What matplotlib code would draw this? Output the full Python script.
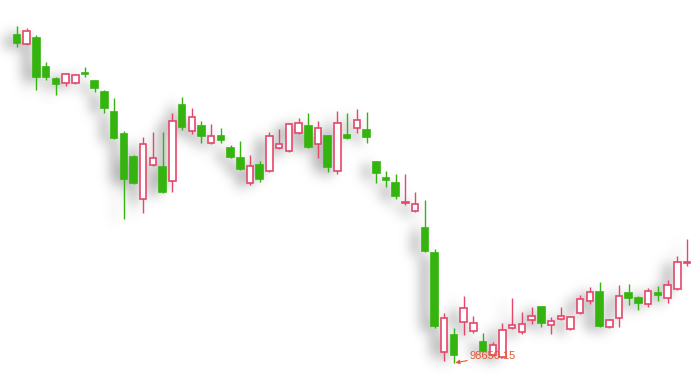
import numpy as np
import matplotlib
matplotlib.use("Agg")
import matplotlib.pyplot as plt

# candle data: open, close, high, low
opens = [108490, 108220, 108400, 107530, 107170, 107050, 107050, 107350, 107110, 106780,
         106180, 105520, 104830, 103570, 104590, 104530, 104110, 106390, 105610, 105760,
         105250, 105460, 105100, 104800, 104050, 104590, 104410, 105100, 105010, 105550,
         105760, 105220, 105460, 104410, 105490, 105700, 105640, 104680, 104200, 104050,
         103450, 103210, 102700, 101950, 98980, 99490, 99880, 99610, 99280, 98890,
         98830, 99700, 99580, 99940, 100330, 99790, 99970, 99670, 100150, 100510,
         100780, 99730, 100000, 100750, 100600, 100420, 100750, 100600, 100870, 101650]
closes = [108250, 108610, 107230, 107230, 107020, 107320, 107290, 107320, 106900, 106300,
          105400, 104170, 104050, 105220, 104800, 103780, 105910, 105730, 106030, 105460,
          105460, 105340, 104830, 104470, 104560, 104170, 105460, 105220, 105820, 105850,
          105130, 105700, 104530, 105850, 105400, 105940, 105430, 104350, 104140, 103660,
          103480, 103420, 102010, 99760, 100000, 98890, 100300, 99850, 99010, 99190,
          99640, 99790, 99820, 100060, 99850, 99910, 100060, 100030, 100570, 100780,
          99760, 99940, 100660, 100600, 100450, 100810, 100690, 100990, 101680, 101680]
highs = [108760, 108700, 108490, 107680, 107230, 107350, 107320, 107530, 107140, 106840,
         106600, 105610, 104890, 105430, 105580, 105580, 106150, 106630, 106300, 105910,
         105820, 105700, 105190, 105310, 104890, 104710, 105580, 105670, 105850, 106000,
         106150, 105910, 105490, 106210, 106150, 106270, 106180, 104710, 104410, 104320,
         104320, 103780, 103540, 102070, 100150, 99700, 100660, 100060, 99550, 99280,
         99850, 100600, 100180, 100330, 100360, 100030, 100330, 100060, 100690, 100930,
         101080, 99970, 100990, 101020, 100660, 100900, 100960, 101140, 101860, 102370]
lows = [108130, 108190, 106840, 107140, 106690, 106960, 107020, 107230, 106780, 106150,
        105370, 102970, 104020, 103150, 104560, 103750, 103780, 105640, 105520, 105250,
        105220, 105250, 104800, 104440, 103990, 104080, 104380, 105070, 104980, 105520,
        105100, 104800, 104380, 104320, 105370, 105550, 105250, 104050, 103930, 103570,
        103390, 103180, 101980, 99700, 98710, 98650.15, 99490, 99550, 98980, 98860,
        98800, 99670, 99520, 99820, 99730, 99520, 99940, 99640, 100120, 100420,
        99730, 99700, 99730, 100390, 100240, 100330, 100510, 100450, 100840, 101560]

min_label = "98650.15"

up_color = '#e5476b'
down_color = '#35b410'
label_color = '#e8572f'

W, H = 700, 381
fig = plt.figure(figsize=(W / 100, H / 100), dpi=100)
fig.patch.set_facecolor('white')

ax = fig.add_axes([0, 0, 1, 1])
ax.set_xlim(-1.75, 70.34)
ax.set_ylim(98110, 109540)
ax.axis('off')
ax.patch.set_visible(False)
ax.set_zorder(2)

o = np.array(opens, dtype=float)
c = np.array(closes, dtype=float)
h = np.array(highs, dtype=float)
l = np.array(lows, dtype=float)
x = np.arange(len(o))
up = c >= o
bw = 0.67

# shadow: rasterise candles, shift and blur
mask = np.zeros((H, W))
for i in range(len(o)):
    xl, yt = ax.transData.transform((x[i] - bw / 2, max(o[i], c[i])))
    xr, yb = ax.transData.transform((x[i] + bw / 2, min(o[i], c[i])))
    _, yh = ax.transData.transform((x[i], h[i]))
    xc, yl = ax.transData.transform((x[i], l[i]))
    r0, r1 = int(round(H - yt)), int(round(H - yb)) + 1
    mask[r0:r1, int(round(xl)):int(round(xr)) + 1] = 1
    mask[int(round(H - yh)):int(round(H - yl)) + 1, int(round(xc))] = 1

dx, dy = -10, 3
mask = np.roll(np.roll(mask, dy, axis=0), dx, axis=1)
sigma = 6.0
k = np.arange(-18, 19)
kern = np.exp(-k ** 2 / (2 * sigma ** 2))
kern /= kern.sum()
blur = np.apply_along_axis(lambda r: np.convolve(r, kern, mode='same'), 1, mask)
blur = np.apply_along_axis(lambda r: np.convolve(r, kern, mode='same'), 0, blur)
rgba = np.zeros((H, W, 4))
rgba[..., :3] = 0.35
rgba[..., 3] = np.clip(blur * 0.55, 0, 1)

sax = fig.add_axes([0, 0, 1, 1])
sax.set_zorder(1)
sax.imshow(rgba, extent=(0, W, H, 0), interpolation='bilinear')
sax.set_xlim(0, W)
sax.set_ylim(H, 0)
sax.axis('off')

# wicks
ax.vlines(x[up], l[up], h[up], color=up_color, linewidth=1.0, zorder=2)
ax.vlines(x[~up], l[~up], h[~up], color=down_color, linewidth=1.0, zorder=2)

# bodies
ax.bar(x[up], (c - o)[up], bottom=o[up], width=bw, color='white',
       edgecolor=up_color, linewidth=1.2, zorder=3)
ax.bar(x[~up], (o - c)[~up], bottom=c[~up], width=bw, color=down_color,
       edgecolor=down_color, linewidth=1.2, zorder=3)

# min marker
imin = int(np.argmin(l))
ax.annotate(min_label, xy=(x[imin], l[imin]), xytext=(16, 7),
            textcoords='offset pixels', ha='left', va='center',
            fontsize=8, family='Liberation Sans', color=label_color,
            arrowprops=dict(arrowstyle='-|>', color=label_color, lw=0.8,
                            shrinkA=0, shrinkB=1, mutation_scale=6),
            zorder=5)

fig.savefig('out.png', dpi=100, facecolor='white')
